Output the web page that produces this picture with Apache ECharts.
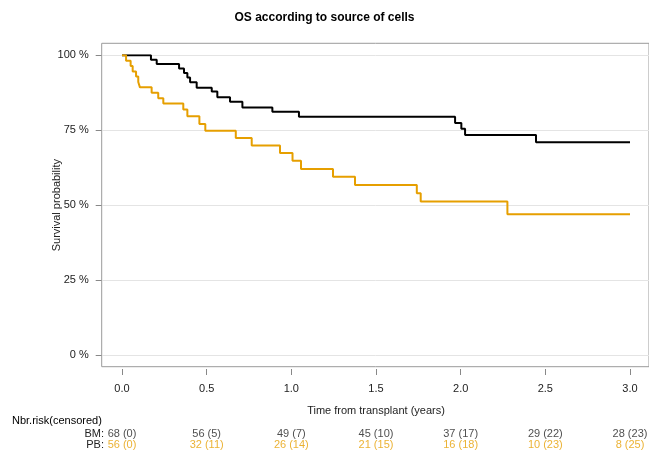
<!DOCTYPE html>
<html>
<head>
<meta charset="utf-8">
<script src="https://cdn.jsdelivr.net/npm/echarts@6/dist/echarts.min.js"></script>
<style>html,body{margin:0;padding:0;background:#fff;}#c{width:649px;height:456px;}</style>
</head>
<body>
<div id="c"></div>
<script>
// ---- data ----
const bmTimes = [0, 0.171, 0.205, 0.337, 0.366, 0.386, 0.402, 0.441, 0.530, 0.563, 0.638, 0.711, 0.888, 1.045, 1.967, 2.004, 2.026, 2.445, 3.0];
const bmSurv  = [100, 98.5, 97.1, 95.6, 94.1, 92.6, 91.0, 89.2, 87.9, 86.0, 84.5, 82.6, 81.2, 79.5, 77.4, 75.5, 73.4, 71.0, 71.0];

const pbTimes = [0, 0.024, 0.051, 0.063, 0.083, 0.096, 0.106, 0.175, 0.214, 0.244, 0.362, 0.386, 0.457, 0.492, 0.672, 0.766, 0.933, 1.007, 1.057, 1.246, 1.376, 1.741, 1.764, 2.276, 3.0];
const pbSurv  = [100, 98.2, 96.4, 94.6, 92.9, 91.1, 89.3, 87.5, 85.7, 83.9, 81.9, 79.7, 77.1, 74.8, 72.4, 69.9, 67.4, 64.8, 62.1, 59.5, 56.7, 54.0, 51.2, 47.0, 47.0];

const riskTimes = [0, 0.5, 1.0, 1.5, 2.0, 2.5, 3.0];
const bmAtRisk  = [68, 56, 49, 45, 37, 29, 28];
const bmCens    = [0, 5, 7, 10, 17, 22, 23];
const pbAtRisk  = [56, 32, 26, 21, 16, 10, 8];
const pbCens    = [0, 11, 14, 15, 18, 23, 25];
const groupLabels = ['BM:', 'PB:'];

// ---- chart ----
const FONT = 'Liberation Sans, Arial, sans-serif';
const BLACK = '#000000';
const ORANGE = '#E69F00';
const TXT = '#222';
const chart = echarts.init(document.getElementById('c'), null, {renderer: 'canvas'});

const zip = (a, b) => a.map((v, i) => [v, b[i]]);

const option = {
  animation: false,
  textStyle: {fontFamily: FONT},
  title: [
    {text: 'OS according to source of cells', left: 'center', top: 12, padding: 0,
     textStyle: {fontSize: 12, fontWeight: 'bold', color: '#000', fontFamily: FONT}},
    {text: 'Nbr.risk(censored)', left: 12, top: 415, padding: 0,
     textStyle: {fontSize: 11, fontWeight: 'normal', color: '#000', fontFamily: FONT}}
  ],
  grid: [
    // 0: data area (0..3 years, 0..100 %)
    {left: 122, top: 55.3, width: 508, height: 299.7},
    // 1: plot box (expanded range)
    {left: 101.7, top: 43.3, width: 548.6, height: 323.4, show: true, borderColor: '#9a9a9a', borderWidth: 1, backgroundColor: 'transparent'},
    // 2: horizontal gridlines + y axis ticks/labels
    {left: 101.7, top: 55.3, width: 548.6, height: 299.7},
    // 3: risk table
    {left: 122, top: 428.5, width: 508, height: 22},
    // 4: x axis ticks/labels below the box
    {left: 122, top: 360, width: 508, height: 9}
  ],
  xAxis: [
    {gridIndex: 0, type: 'value', min: 0, max: 3, show: false},
    {gridIndex: 1, type: 'value', min: 0, max: 1, show: false},
    {gridIndex: 2, type: 'value', min: 0, max: 1, show: false},
    {gridIndex: 3, type: 'value', min: 0, max: 3, show: false},
    {gridIndex: 4, type: 'value', min: 0, max: 3, interval: 0.5,
     axisLine: {show: false},
     axisTick: {show: true, length: 6, lineStyle: {color: '#888'}},
     axisLabel: {formatter: v => v.toFixed(1), margin: 14, fontSize: 11, color: TXT, fontFamily: FONT},
     splitLine: {show: false},
     name: 'Time from transplant (years)', nameLocation: 'middle', nameGap: 36, nameMoveOverlap: false,
     nameTextStyle: {fontSize: 11, color: TXT, fontFamily: FONT}}
  ],
  yAxis: [
    {gridIndex: 0, type: 'value', min: 0, max: 100, show: false},
    {gridIndex: 1, type: 'value', min: 0, max: 1, show: false},
    {gridIndex: 2, type: 'value', min: 0, max: 100, interval: 25,
     axisLine: {show: false},
     axisTick: {show: true, length: 6, lineStyle: {color: '#888'}},
     axisLabel: {formatter: '{value} %', margin: 13, fontSize: 11, color: TXT, fontFamily: FONT},
     splitLine: {show: true, lineStyle: {color: '#e4e4e4', width: 1}},
     name: 'Survival probability', nameLocation: 'middle', nameGap: 39, nameRotate: 90, nameMoveOverlap: false,
     nameTextStyle: {fontSize: 11, color: TXT, fontFamily: FONT}},
    {gridIndex: 3, type: 'category', data: groupLabels, inverse: true,
     axisLine: {show: false}, axisTick: {show: false},
     axisLabel: {interval: 0, hideOverlap: false, margin: 18, fontSize: 11, color: TXT, fontFamily: FONT}},
    {gridIndex: 4, type: 'value', min: 0, max: 1, show: false}
  ],
  series: [
    {name: 'BM', type: 'line', xAxisIndex: 0, yAxisIndex: 0, step: 'end', showSymbol: false,
     lineStyle: {color: BLACK, width: 2}, itemStyle: {color: BLACK},
     data: zip(bmTimes, bmSurv), z: 3},
    {name: 'PB', type: 'line', xAxisIndex: 0, yAxisIndex: 0, step: 'end', showSymbol: false,
     lineStyle: {color: ORANGE, width: 2}, itemStyle: {color: ORANGE},
     data: zip(pbTimes, pbSurv), z: 4},
    {name: 'BM risk', type: 'scatter', xAxisIndex: 3, yAxisIndex: 3, symbolSize: 1,
     itemStyle: {color: 'rgba(0,0,0,0)'},
     data: riskTimes.map(t => [t, groupLabels[0]]),
     label: {show: true, position: 'inside', fontSize: 11, color: TXT, fontFamily: FONT,
             formatter: p => bmAtRisk[p.dataIndex] + ' (' + bmCens[p.dataIndex] + ')'}},
    {name: 'PB risk', type: 'scatter', xAxisIndex: 3, yAxisIndex: 3, symbolSize: 1,
     itemStyle: {color: 'rgba(0,0,0,0)'},
     data: riskTimes.map(t => [t, groupLabels[1]]),
     label: {show: true, position: 'inside', fontSize: 11, color: ORANGE, fontFamily: FONT,
             formatter: p => pbAtRisk[p.dataIndex] + ' (' + pbCens[p.dataIndex] + ')'}}
  ]
};
chart.setOption(option);
</script>
</body>
</html>
